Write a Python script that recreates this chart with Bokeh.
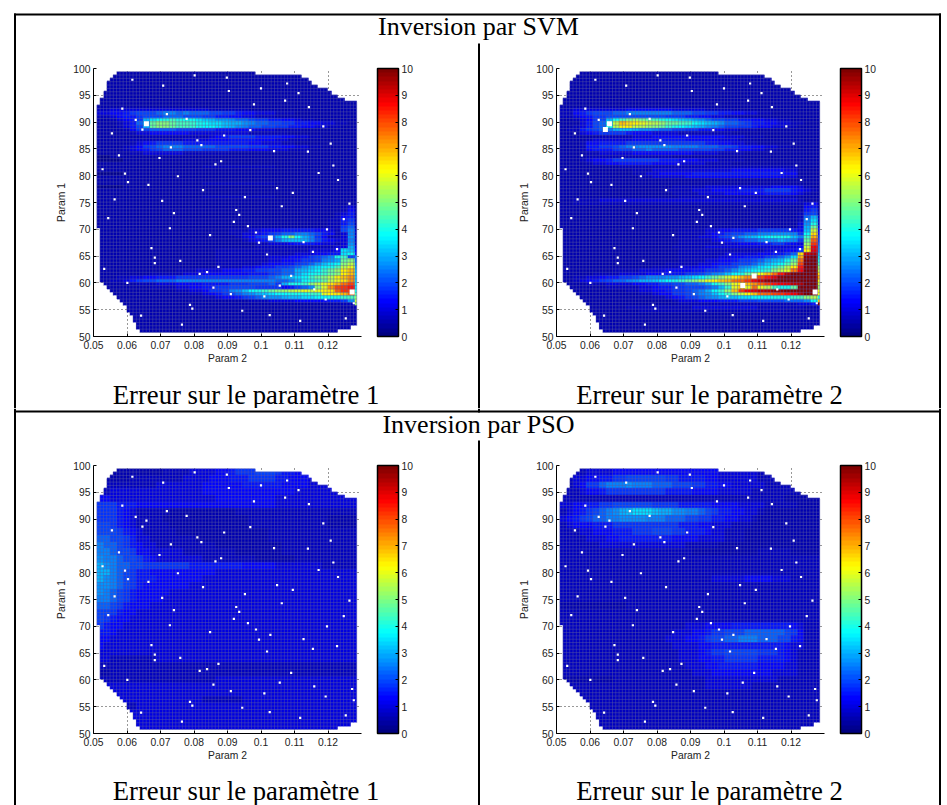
import numpy as np
from bokeh.core.properties import value
from bokeh.embed import file_html
from bokeh.resources import INLINE
from bokeh.layouts import row, column
from bokeh.models import ColorBar, FixedTicker, LinearColorMapper, Range1d, Spacer
from bokeh.plotting import figure

X_TICKS = [0.05, 0.06, 0.07, 0.08, 0.09, 0.1, 0.11, 0.12]
X_TICK_LABELS = ["0.05", "0.06", "0.07", "0.08", "0.09", "0.1", "0.11", "0.12"]
Y_TICKS = [50, 55, 60, 65, 70, 75, 80, 85, 90, 95, 100]
CB_TICKS = [0, 1, 2, 3, 4, 5, 6, 7, 8, 9, 10]
X_LABEL = "Param 2"
Y_LABEL = "Param 1"
BANNERS = ["Inversion par SVM", "Inversion par PSO"]
CAPTIONS = ["Erreur sur le paramètre 1", "Erreur sur le paramètre 2"]

# error levels: each character is a level of 0.25
LEVELS = "0123456789abcdefghijklmnopqrstuvwxyzABCDE"

# first and last+1 mesh column of every mesh row, from the top row down
MASK_LEFT = [6, 5, 4, 3, 3, 3, 2, 2, 1, 1] + [0] * 37 + [1] * 16 + [2, 3, 4, 5, 6, 7, 8, 9, 9, 10, 11, 11, 12, 12, 13, 41]
MASK_RIGHT = [48, 62, 64, 65, 67, 70, 71, 73, 75, 79] + [79] * 66 + [77, 73]

BG = "2222222222 2222222222 2222222222 2222222222"
D0 = "1111222222 2222222222 2222222222 2222222222"
D1 = "2222222222 2222223333 3333333222 2222222222"
L3 = "3333333333 3333333333 3333333333 3333333333"
L4 = "4444444444 4444444444 4444444444 4444444444"

SVM_P1 = [BG] * 11 + [
    "3344444444 4444444333 3332222222 2222222222",
    "4455678889 aa9a999887 7655444333 2222222222",
    "3345667888 9998887766 5544333222 2222222222",
    "2234567cef ghgffedcbb a998776655 4332222222",
    "2223469cjk kjiihgfeed ccba998877 6655443322",
    "2223468cjk kjiihgffed cba9988776 6554433222",
    "2222357899 9988877766 6555444333 3222222222",
    "2222234455 5555444444 4443333332 2222222222",
    "2222222333 3333333456 7777666655 4433222222",
    "2222233333 3334444555 6666555443 3322222222",
    "2222234567 7776666666 6665544433 2222222222",
    "2222345789 aaa9999988 8887776655 4433222222",
    "2222345678 9998887777 6665554443 3322222222",
    "2222233444 4443333333 2222222222 2222222222",
    "1122222222 2222222222 2222222222 2222222222",
    D0, BG, D1, BG, D0, BG, BG, D1, D0, BG, BG, D1, BG, BG,
    "2222222222 2222222222 2222222222 2222222342",
    "2222222222 2222222222 2222222222 2222222352",
    "2222222222 2222222222 2222222222 2222223462",
    "2222222222 2222222222 2222222222 2222223562",
    "2222222222 2222222222 2222222222 2222233672",
    "2222222222 2222222222 2222222222 2222233682",
    "2222222222 2222222222 2222222222 2222233792",
    "2222222222 2222222222 3334455566 66655438a3",
    "2222222222 2222222222 3344567899 aa986534a3",
    "2222222222 2222222222 2345789cgk fca75334b3",
    "2222222222 2222222222 2234568acd dca86544a3",
    "2222222222 2222222222 2222334445 66654434b3",
    "2222222222 2222222222 2222333333 33333344c4",
    "2222222222 2222222233 3333333333 3344445ed5",
    "2222222222 2222222233 3333333333 4445566ef6",
    "2222222222 2222222233 3333334445 56789agh8a",
    "2222222222 2222222233 3333334455 6778abcjk9",
    "2222222222 2222222233 3333345566 789bdefkma",
    "2222222222 2222222233 3344566778 9bdefgimob",
    "2222222222 2233344445 5566778899 cdefhjlprc",
    "2222222233 3334445555 5556667899 cefghjkprd",
    "2223344556 6677777777 7778889acd efhjkmprtd",
    "2233467889 99aaaaaaaa aaaaaaa99a cfghjmoqtd",
    "2222223334 4455556666 7778889 7cg ghkmoqsuwe",
    "2222222233 3344556677 8888777756 89bkotwxye",
    "2222222222 2233445778 abdfghjklm nonopqvxwg",
    "2222222222 2222334567 89abcdeffg gghhopqsvi",
    "2222222222 2222223345 56789abbcd deeffgghik",
    "2222222222 2222222222 2223334444 55555667bn",
    "2222222222 2222222222 2222222222 222222233l",
    "2222222222 2222222222 2222222222 2222222223",
] + [BG] * 7

SVM_P2 = [BG] * 11 + [
    "3344444444 5555555444 4433332222 2222222222",
    "3356788899 aaaaaaa999 8877665544 3322222222",
    "3345677888 8888887776 6554433222 2222222222",
    "2234578cfh jkjihgfedc ba98877665 5443322222",
    "2224689gnr qponmljjih fedcb99876 6554433222",
    "2234689gmp pnmlkjhgfe dcba988776 5544332222",
    "2336789acd dcbba99887 7665544333 2222222222",
    "2224567777 6555444433 3333332222 2222222222",
    "2222223333 3444555555 5555544433 3222222222",
    "2222344444 4555566665 5555444332 2222222222",
    "2223556666 7777777777 7766554433 2222222222",
    "2223667789 aabbbbbaaa a999887665 5443322222",
    "2223566678 899a999988 8887766554 4332222222",
    "2222334444 4555555555 4444333322 2222222222",
    "2222333333 3333333222 2222222222 2222222222",
    "2223455677 7777766655 5444333322 2222222222",
    "2222344556 6666555544 4433332222 2222222222",
    "2222222223 3333333333 3333333333 3333332222",
    "2222222222 2333444444 4444445555 5555442222",
    "2222222222 2334455555 6666666666 6666552222",
    "2222222222 2233444445 5555555555 5555442222",
    BG, BG,
    "2222222222 2222222333 3344444444 4455554322",
    "2222222222 2222223333 4445555666 6777765432",
    "2222222222 2222222333 3444455555 5666654322",
    "2222222222 2222222233 3333333333 3333332222",
    "2233334444 4444444444 4444444444 4444443222",
    "2233333333 3333333333 3333333333 3333333452",
    "2222222222 2222222222 2222222222 2222222562",
    "2222222222 2222222222 2222222222 2222222672",
    "2222222222 2222222222 2222222222 2222223782",
    "2222222222 2222222222 2222222222 222222 39c3",
    "2222222222 2222222222 2222222222 222222 3ae3",
    "2222222222 2222222222 2222222222 222222 4bg3",
    "2222222222 2222222222 2222222222 222222 4cj4",
    "2222222222 2222222233 3344556666 777776 5dn5",
    "2222222222 2222222233 3345678899 aabbba 7fq6",
    "2222222222 2222222233 3445789bcd efgggd ahs7",
    "2222222222 2222222233 3334567899 abbcba 7jv8",
    "2222222222 2222222233 3333344555 667765 4lx9",
    "2222222222 2222222333 3344444444 444444 5nza",
    "2222222222 2222222233 3333333333 344455 7pAb",
    "2222222222 2222222233 3333344444 556679 qBCd",
    "2222222222 2222222233 3333445566 6789be sDEe",
    "2222222222 2222222233 3344556778 9bcdgj uEEg",
    "2222222222 2222223333 3445667889 bdefil wEEi",
    "2222222222 2222333344 4556778abc efhjmp yEEk",
    "2222222233 3344445555 667789bdef ghkmou zEEm",
    "2222233334 4445556667 789abdfgjl oruyCE EEEq",
    "2233445667 789aaabbcd efhjlnprtv wyADEE EEEs",
    "2234567899 abccdefghj kmoprsuvxz BDEEEE EEEo",
    "2222333444 4556677889 9acgikoqrt vxyzAB CEEn",
    "2222222333 3344566778 889adhorou omiggj EEEl",
    "2222222222 3344556778 9acfhlrxzA BCDDEE EEEo",
    "2222222222 2233455778 9abdfhknpr uvwxyz CEEo",
    "2222222222 2222334567 89abcddeef ffgggh ikmg",
    "2222222222 2222222344 4555666777 888899 9afr",
    "2222222222 2222222233 3333333333 333333 446E",
    "2222222222 3333333333 4444444444 333333 3223",
    "2222222222 2233333333 3333333333 333322 2222",
] + [BG] * 6

PSO_P1 = [
    "2222222222 3333444455 6777888766 5555444444",
    "2222233333 3334444555 6667777665 5544444444",
    "3333333334 4444445555 5566666655 5544444444",
    "3344444444 4444445555 5555555555 4444444444",
    "5544444444 4444444455 5555555444 4444444444",
    "7776665555 5555555555 5555555444 4444444444",
    "7776543333 3222222222 2333333333 3333333333",
    "7776543333 2222222222 2223333333 3333322222",
    "8876543333 3222222222 2223333333 3333322222",
    "8887654333 3322222222 2222223333 3333333333",
    "9988764433 3333322222 2222223333 3333333333",
    "a998765443 3333333322 2222222233 3333333333",
    "aa98875544 4443333333 3222222233 3333333333",
    "baa9887654 4444443333 3333222222 3333333333",
    "cba9988777 7777666666 6655555444 4444333333",
    "cca9876655 5555555544 4444444444 4444444444",
    "cba9876665 5555554444 4444444444 4444444444",
    "bba9876555 5555444444 4444444444 4444444444",
    "ba98765555 5444444444 4444444444 4444444444",
    "aa98765555 4444444444 4444444444 4444444444",
    "9987655544 4444444444 4444444444 4444444444",
    "8876554444 4444444444 4444444444 4444444444",
    "8765544444 4444444444 4444444444 4444444444",
    "7655444444 4444444444 4444444444 4444444444",
    "6654444444 4444444444 4444444444 4444444444",
    "5544444444 4444444444 4444444444 4444444444",
    "5444444444 4444444444 4444444444 4444444444",
    L4,
    "4433333334 4444444444 4444444444 4444444444",
    "3333333333 3333333333 3333333333 3333333333",
    "2233333333 3333333333 3333333333 3333333333",
    "3333333333 3333333344 4444444444 4444444444",
    L4, L4,
    "4444444444 4444443333 3344444444 4444444444",
    "3333334444 4444444444 4444444444 4444444444",
    L4, L4, L4,
]

PSO_P2 = [
    "3333444455 5555555555 5555444444 3333333333",
    "3344556677 8888887766 6655444444 3333333333",
    "3345779aaa baaa999888 7766554444 4333333333",
    "3334556777 7777776666 5555444443 3333333333",
    "3333333333 3333333333 3333333333 3333222222",
    "4455667788 8888777766 6665555444 4333332222",
    "3456789abc deeedccbba a987665544 3222222222",
    "4567899aab bbbaaa9998 8776655443 2222222222",
    "3455566677 7777777766 6554443332 2222222222",
    "3334455566 6777888776 6654433322 2222222222",
    "3333444556 6666666555 5444433322 2222222222",
    "3333334444 4444444443 3333222222 2222222222",
    "3333333333 3333333333 2222222222 3333322222",
    L3, L3, L3,
    "3333333333 3333333333 3334444455 5544433333",
    L3, L3, L3,
    "2222222222 3333333333 3333333333 3333333333",
    L3, L3,
    "3333333333 3333333334 4455556666 6666654333",
    "3333333333 3333333444 5567788899 9999875333",
    "3333333333 3333334445 5678899aaa 9998865333",
    "3333333333 3333333444 4556666666 6666544333",
    "3333333333 3333333344 4567788888 7776543333",
    "3333333333 3333333344 4556677777 6666543333",
    "3333333333 3333333334 4455666666 5555443333",
    "3333333333 3333333333 4445555555 5544443333",
    "2222222233 3333333333 3344444444 4443333333",
    "3333333333 3333333333 3344444443 3333333333",
    L3, L3, L3, L3, L3, L3,
]

PT_P2 = [0.0616, 0.0802, 0.0898, 0.0708, 0.1078, 0.1112, 0.0904, 0.1000, 0.0586, 0.0979, 0.1072, 0.1143,
         0.0626, 0.0658, 0.0719, 0.0778, 0.0646, 0.0968, 0.1186, 0.0555, 0.0890, 0.0810, 0.0822, 0.0731,
         0.0576, 0.1039, 0.1140, 0.1208, 0.0697, 0.0881, 0.0864, 0.1216, 0.0527, 0.0594, 0.1172, 0.0752,
         0.0603, 0.1230, 0.0664, 0.0827, 0.1048, 0.1095, 0.0952, 0.0563, 0.0705, 0.1264, 0.1062, 0.0544,
         0.0740, 0.0926, 0.0935, 0.0919, 0.1247, 0.0728, 0.1197, 0.0961, 0.0848, 0.0985, 0.0994, 0.1028,
         0.1127, 0.0673, 0.1227, 0.1155, 0.1018, 0.0683, 0.0683, 0.0759, 0.0532, 0.0873, 0.0839, 0.0817,
         0.1090, 0.0601, 0.1056, 0.1159, 0.1272, 0.0858, 0.0910, 0.1010, 0.1193, 0.1277, 0.0788, 0.0795,
         0.0944, 0.0642, 0.1026, 0.1253, 0.1117, 0.0764]
PT_P1 = [97.9, 98.7, 98.3, 96.8, 97.2, 95.4, 95.8, 96.3, 92.5, 93.3, 94.0, 92.8,
         90.4, 89.7, 91.5, 90.6, 88.6, 88.5, 89.2, 87.9, 87.5, 86.6, 85.7, 85.3,
         83.8, 84.6, 84.5, 86.0, 83.3, 82.7, 82.1, 81.9, 81.2, 80.4, 80.5, 79.9,
         78.8, 79.2, 78.3, 77.3, 77.7, 76.8, 76.0, 75.6, 75.3, 74.8, 74.3, 72.1,
         73.0, 73.6, 72.7, 71.4, 71.9, 70.2, 70.0, 70.6, 68.9, 69.4, 67.5, 68.4,
         67.6, 66.5, 66.3, 65.8, 65.3, 64.7, 63.7, 64.1, 62.6, 63.0, 62.0, 61.7,
         61.3, 60.0, 59.5, 58.8, 58.3, 59.1, 57.9, 57.5, 56.9, 56.2, 55.9, 55.2,
         54.8, 53.9, 54.0, 53.4, 52.9, 52.2]

BIG_SVM_1 = ([0.0658, 0.1028, 0.1272], [89.7, 68.4, 58.3])
BIG_SVM_2 = ([0.0658, 0.0646, 0.1056, 0.1090, 0.1272], [89.7, 88.6, 59.5, 61.3, 58.3])
BIG_NONE = ([], [])

# ---- mesh geometry
X0, DX = 0.051, 0.000982
Y_TOP, DY = 99.4, 0.6237
N_ROWS, N_COLS = 78, 79


def jet(n):
    out = []
    for i in range(n):
        v = i / (n - 1)
        rgb = [min(1, max(0, 1.5 - abs(4 * v - k))) for k in (3, 2, 1)]
        out.append("#%02x%02x%02x" % tuple(int(round(c * 255)) for c in rgb))
    return out


def grid_from(rows):
    rows = [r.replace(" ", "") for r in rows]
    a = np.full((N_ROWS, N_COLS), np.nan)
    for r in range(N_ROWS):
        s = rows[r * len(rows) // N_ROWS]
        for c in range(MASK_LEFT[r], MASK_RIGHT[r]):
            ch = s[min(c * 40 // N_COLS, len(s) - 1)]
            a[r, c] = LEVELS.index(ch) * 0.25
    return a[::-1]


def mesh_segments():
    x0, y0, x1, y1 = [], [], [], []
    for r in range(N_ROWS + 1):
        i = min(r, N_ROWS - 1)
        y = Y_TOP - r * DY
        x0.append(X0 + MASK_LEFT[i] * DX); x1.append(X0 + MASK_RIGHT[i] * DX)
        y0.append(y); y1.append(y)
    for c in range(N_COLS + 1):
        rs = [r for r in range(N_ROWS) if MASK_LEFT[r] <= c <= MASK_RIGHT[r]]
        x = X0 + c * DX
        x0.append(x); x1.append(x)
        y0.append(Y_TOP - rs[0] * DY); y1.append(Y_TOP - (rs[-1] + 1) * DY)
    return x0, y0, x1, y1


MAPPER = LinearColorMapper(palette=jet(64), low=0, high=10, nan_color="rgba(0,0,0,0)")
SEG = mesh_segments()
TICK_FONT = "10.3px"
SERIF = "Liberation Serif"


def panel(rows, big, w, h, left, right, top, bottom):
    p = figure(width=w, height=h, x_range=Range1d(0.05, 0.13), y_range=Range1d(50, 100),
               output_backend="svg", toolbar_location=None,
               min_border_left=left, min_border_right=right, min_border_top=top, min_border_bottom=bottom,
               outline_line_color=None)
    for ax, lab in ((p.xaxis[0], X_LABEL), (p.yaxis[0], Y_LABEL)):
        ax.axis_label = lab
        ax.axis_label_text_font = "Liberation Sans"
        ax.axis_label_text_font_style = "normal"
        ax.axis_label_text_font_size = TICK_FONT
        ax.axis_label_text_color = "#222222"
        ax.major_label_text_font = "Liberation Sans"
        ax.major_label_text_font_size = TICK_FONT
        ax.major_label_text_color = "#222222"
        ax.major_tick_in = 3
        ax.major_tick_out = 0
        ax.minor_tick_line_color = None
        ax.axis_line_color = "black"
        ax.major_tick_line_color = "black"
    p.xaxis[0].ticker = FixedTicker(ticks=X_TICKS)
    p.xaxis[0].major_label_overrides = dict(zip(X_TICKS, X_TICK_LABELS))
    p.xaxis[0].major_label_standoff = 4
    p.xaxis[0].axis_label_standoff = 1
    p.yaxis[0].ticker = FixedTicker(ticks=Y_TICKS)
    p.yaxis[0].major_label_standoff = 3
    p.yaxis[0].axis_label_standoff = 3
    for g, t in ((p.xgrid[0], X_TICKS), (p.ygrid[0], Y_TICKS)):
        g.ticker = FixedTicker(ticks=t)
        g.grid_line_color = "#333333"
        g.grid_line_dash = "1 3"
        g.grid_line_width = 1
    p.image(image=[grid_from(rows)], x=X0, y=Y_TOP - N_ROWS * DY, dw=N_COLS * DX, dh=N_ROWS * DY, color_mapper=MAPPER)
    p.segment(SEG[0], SEG[1], SEG[2], SEG[3], line_color="#5c5ca2", line_alpha=0.45, line_width=1)
    p.scatter(PT_P2, PT_P1, marker="square", size=2.2, color="white", line_color=None)
    if big[0]:
        p.scatter(big[0], big[1], marker="square", size=5, color="white", line_color=None)
    cb = ColorBar(color_mapper=MAPPER, ticker=FixedTicker(ticks=CB_TICKS), width=21, height=268, location=(284, 0),
                  padding=0, margin=0, bar_line_color="black", bar_line_width=1.5,
                  major_tick_line_color="black", major_tick_in=3, major_tick_out=0, minor_tick_line_color=None,
                  label_standoff=3, major_label_text_font="Liberation Sans", major_label_text_font_size=TICK_FONT,
                  major_label_text_color="#222222", background_fill_alpha=0, border_line_color=None)
    p.add_layout(cb, "center")
    return p


def plain(w, x0, y_top, y_bottom):
    """A figure without axes whose data coordinates are the page's own pixels."""
    p = figure(width=w, height=y_bottom - y_top, x_range=Range1d(x0, x0 + w), y_range=Range1d(y_bottom, y_top),
               output_backend="svg", toolbar_location=None, x_axis_location=None, y_axis_location=None,
               min_border=0, min_border_left=0, min_border_right=0, min_border_top=0, min_border_bottom=0,
               outline_line_color=None)
    p.grid.visible = False
    return p


def caption(text, w, x0, y_top, y_bottom, x_mid, baseline):
    p = plain(w, x0, y_top, y_bottom)
    p.text(x=[x_mid], y=[baseline], text=[text], text_font=value(SERIF), text_font_size="26.7px",
           text_align="center", text_baseline="alphabetic", text_color="black")
    return row([p], spacing=0)


def banner(text, y_top, y_bottom, mid_y, bars):
    p = plain(941, 0, y_top, y_bottom)
    p.quad(left=[b[0] for b in bars], right=[b[1] for b in bars], top=[b[2] for b in bars], bottom=[b[3] for b in bars],
           color="black", line_color=None)
    p.text(x=[478], y=[mid_y], text=[text], text_font=value(SERIF), text_font_size="26px",
           text_align="center", text_baseline="middle", text_color="black")
    return p


def bar(w, h):
    return Spacer(width=w, height=h, styles={"background-color": "black"})


def body(rows_l, big_l, rows_r, big_r, y_top, y_mid, y_bottom, base):
    top = 13
    h = y_mid - y_top
    bottom = h - top - 268
    left = column([panel(rows_l, big_l, 462, h, 77, 117, top, bottom),
                   caption(CAPTIONS[0], 462, 16, y_mid, y_bottom, 245.6, base)], spacing=0)
    right = column([panel(rows_r, big_r, 459, h, 76, 115, top, bottom),
                    caption(CAPTIONS[1], 459, 480, y_mid, y_bottom, 709, base)], spacing=0)
    tall = y_bottom - y_top
    return row([Spacer(width=14, height=tall), bar(2, tall), left, bar(2, tall), right, bar(2, tall)], spacing=0)


page = column([
    banner(BANNERS[0], 0, 55, 26,
           [(13.5, 941, 13, 15), (13.5, 15.5, 13, 55), (938.5, 940.5, 13, 55), (477.5, 479.5, 43, 55)]),
    body(SVM_P1, BIG_SVM_1, SVM_P2, BIG_SVM_2, 55, 372, 408, 394),
    banner(BANNERS[1], 408, 452, 423.5,
           [(13.5, 941, 410, 412), (13.5, 15.5, 408, 452), (938.5, 940.5, 408, 452), (477.5, 479.5, 408, 412),
            (477.5, 479.5, 440, 452)]),
    body(PSO_P1, BIG_NONE, PSO_P2, BIG_NONE, 452, 770, 805, 790),
], spacing=0)

open("out.html", "w").write(file_html(page, INLINE))
